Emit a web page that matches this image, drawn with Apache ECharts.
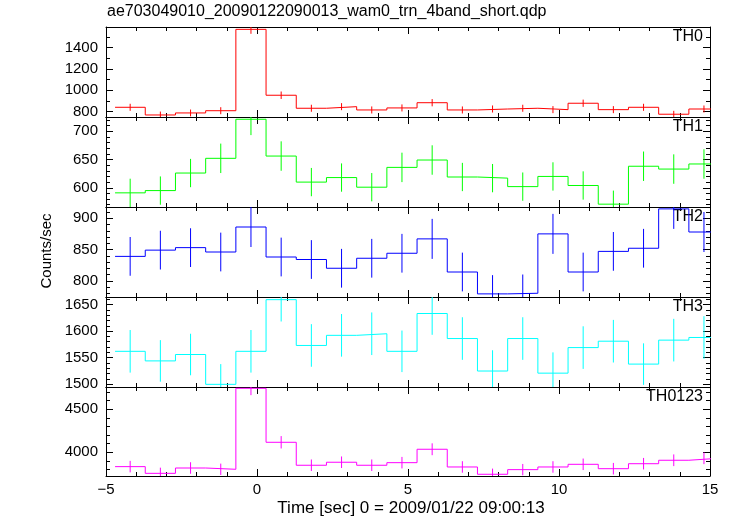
<!DOCTYPE html>
<html><head><meta charset="utf-8">
<script src="https://cdn.jsdelivr.net/npm/echarts@6/dist/echarts.min.js"></script>
<style>html,body{margin:0;padding:0;background:#fff}#c{width:733px;height:516px}</style>
</head><body><div id="c"></div>
<script>
const titleText = 'ae703049010_20090122090013_wam0_trn_4band_short.qdp';
const xName = 'Time [sec] 0 = 2009/01/22 09:00:13';
const yName = 'Counts/sec';
const binCenters = [-4.2,-3.2,-2.2,-1.2,-0.2,0.8,1.8,2.8,3.8,4.8,5.8,6.8,7.8,8.8,9.8,10.8,11.8,12.8,13.8,14.8];
const binWidth = 1.0;

const th0 = [841,769,788,809,1572,954,832,847,816,835,884,816,825,832,819,879,819,841,776,825];
const th0Err = [33,32,32,33,42,35,33,33,33,33,34,33,33,33,33,34,33,33,32,33];
const th1 = [591,595,626,652,721,656,610,618,601,636,649,619,617,602,620,604,571,638,633,642];
const th1Err = [25,25,25,26,28,26,25,25,25,26,26,25,25,25,25,25,24,26,26,26];
const th2 = [839,849,853,846,886,838,834,820,836,844,867,814,779,780,875,814,847,852,915,878];
const th2Err = [31,31,31,31,32,31,31,31,31,31,32,31,30,30,32,31,31,31,32,32];
const th3 = [1562,1544,1556,1500,1562,1659,1573,1592,1595,1562,1633,1586,1525,1586,1521,1569,1581,1538,1583,1588];
const th3Err = [40,39,39,38,40,41,40,40,40,39,40,40,39,40,39,40,40,39,40,40];
const th0123 = [3833,3755,3817,3802,4744,4116,3849,3884,3849,3879,4035,3829,3744,3798,3829,3860,3809,3867,3907,3930];
const th0123Err = [67,66,67,66,80,72,67,67,67,67,69,67,66,66,67,67,67,67,68,68];

const panelNames = ['TH0','TH1','TH2','TH3','TH0123'];
const panelColors = ['#ff0000','#00ff00','#0000ff','#00ffff','#ff00ff'];
const yMin = [750,566,774,1495,3724];
const yMax = [1594,725,918,1664,4759];
const yMajorTicks = [[800,1000,1200,1400],[600,650,700],[800,850,900],[1500,1550,1600,1650],[4000,4500]];
const yMinorStep = [100,10,10,10,100];
const xMin = -5, xMax = 15, xInterval = 5, xMinorSplit = 5;

const values = [th0,th1,th2,th3,th0123];
const errors = [th0Err,th1Err,th2Err,th3Err,th0123Err];

const FONT = 'Liberation Sans, Arial, Helvetica, sans-serif';
const gridTops = [27,117,207,297,387];
const gridH = [90,90,90,90,89];

function minorValues(i){
  const out=[]; const s=yMinorStep[i];
  for(let v=Math.ceil(yMin[i]/s)*s; v<=yMax[i]; v+=s){ if(yMajorTicks[i].indexOf(v)<0) out.push(v); }
  return out;
}

const grids=[], xAxes=[], yAxes=[], series=[], graphics=[];
for(let i=0;i<5;i++){
  grids.push({left:106, width:604, top:gridTops[i], height:gridH[i]});
  const axLine = {show:true, onZero:false, lineStyle:{color:'#000', width:1}};
  const last = i===4;
  xAxes.push({type:'value', gridIndex:i, position:'bottom', min:xMin, max:xMax, interval:xInterval,
    axisLine:axLine, splitLine:{show:false},
    axisTick:{show:true, inside:true, length:7, lineStyle:{color:'#000'}},
    minorTick:{show:true, splitNumber:xMinorSplit, length:4, lineStyle:{color:'#000'}},
    axisLabel:{show:last, color:'#000', fontFamily:FONT, fontSize:15, margin:6,
      showMinLabel:true, showMaxLabel:true,
      formatter:v=>String(v).replace('-','\u2212')}});
  xAxes.push({type:'value', gridIndex:i, position:'top', min:xMin, max:xMax, interval:xInterval,
    axisLine:axLine, splitLine:{show:false},
    axisTick:{show:true, inside:true, length:7, lineStyle:{color:'#000'}},
    minorTick:{show:true, splitNumber:xMinorSplit, length:4, lineStyle:{color:'#000'}},
    axisLabel:{show:false}});
  const mins = minorValues(i);
  ['left','right'].forEach(pos=>{
    yAxes.push({type:'value', gridIndex:i, position:pos, min:yMin[i], max:yMax[i],
      axisLine:axLine, splitLine:{show:false},
      axisTick:{show:true, inside:true, length:7, customValues:yMajorTicks[i], lineStyle:{color:'#000'}},
      axisLabel:{show:pos==='left', customValues:yMajorTicks[i], color:'#000', fontFamily:FONT, fontSize:15, margin:8,
        formatter:v=>String(v)}});
    yAxes.push({type:'value', gridIndex:i, position:pos, min:yMin[i], max:yMax[i],
      axisLine:{show:false, onZero:false}, splitLine:{show:false}, axisLabel:{show:false},
      axisTick:{show:true, inside:true, length:4, customValues:mins, lineStyle:{color:'#000'}}});
  });
  const stepData=[];
  binCenters.forEach((c,k)=>{ stepData.push([c-binWidth/2, values[i][k]]); stepData.push([c+binWidth/2, values[i][k]]); });
  series.push({type:'line', xAxisIndex:2*i, yAxisIndex:4*i, data:stepData, showSymbol:false, symbol:'none',
    clip:true, lineStyle:{color:panelColors[i], width:1}, itemStyle:{color:panelColors[i]}, silent:true, animation:false});
  const errData = binCenters.map((c,k)=>[c, values[i][k]-errors[i][k], values[i][k]+errors[i][k]]);
  const col = panelColors[i];
  series.push({type:'custom', xAxisIndex:2*i, yAxisIndex:4*i, data:errData, clip:true, silent:true, animation:false,
    encode:{x:0, y:[1,2]},
    renderItem:(params, api)=>{
      const p1 = api.coord([api.value(0), api.value(1)]);
      const p2 = api.coord([api.value(0), api.value(2)]);
      return {type:'line', shape:{x1:p1[0], y1:p1[1], x2:p2[0], y2:p2[1]}, style:{stroke:col, lineWidth:1}};
    }});
  graphics.push({type:'text', right:30, top:gridTops[i]+2, style:{text:panelNames[i], font:'16px '+FONT, fill:'#000'}});
}
graphics.push({type:'text', left:107, top:4, style:{text:titleText, font:'16px '+FONT, fill:'#000'}});
graphics.push({type:'text', x:411, y:508, style:{text:xName, font:'17px '+FONT, fill:'#000', textAlign:'center', textVerticalAlign:'middle'}});
graphics.push({type:'text', x:47, y:251, rotation:Math.PI/2, style:{text:yName, font:'15px '+FONT, fill:'#000', textAlign:'center', textVerticalAlign:'middle'}});

const chart = echarts.init(document.getElementById('c'), null, {renderer:'canvas'});
chart.setOption({animation:false, backgroundColor:'#fff', grid:grids, xAxis:xAxes, yAxis:yAxes, series:series, graphic:graphics});
</script></body></html>
